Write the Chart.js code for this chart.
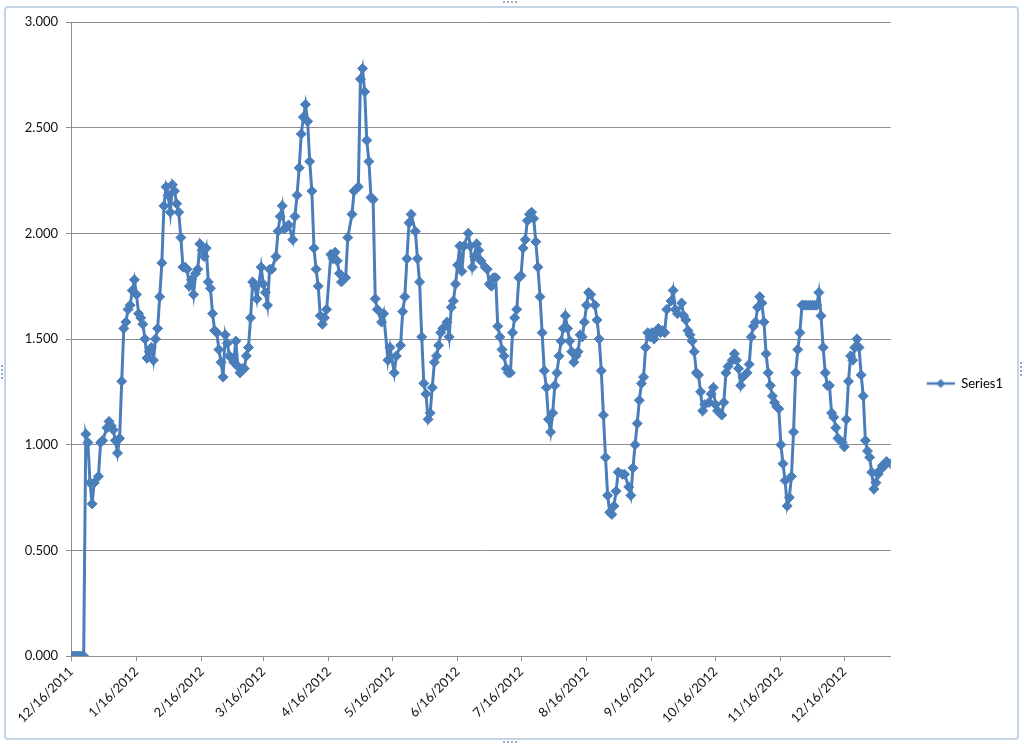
<!DOCTYPE html>
<html>
<head>
<meta charset="utf-8">
<script src="https://cdn.jsdelivr.net/npm/chart.js@4.4.0/dist/chart.umd.min.js"></script>
<style>
  html, body { margin: 0; padding: 0; background: #fff; }
  #wrap { position: relative; width: 1024px; height: 745px; overflow: hidden; }
  #frame { position: absolute; left: 4px; top: 6px; width: 1011px; height: 730px;
           border: 2px solid #c4d4e7; border-radius: 4px; }
  #myChart { position: absolute; left: 0; top: 0; }
  .grip { position: absolute; border-top: 2px dotted #9aa8b8; width: 14px; }
  .gripv { position: absolute; border-left: 2px dotted #9aa8b8; height: 14px; }
</style>
</head>
<body>
<div id="wrap">
  <div id="frame"></div>
  <div class="grip" style="left:503px;top:1px"></div>
  <div class="grip" style="left:503px;top:741px"></div>
  <div class="gripv" style="left:1px;top:365px"></div>
  <div class="gripv" style="left:1020px;top:362px"></div>
  <canvas id="myChart" width="1024" height="745"></canvas>
</div>
<script>
// days counted from 12/16/2011
const dayIndex = [
  0, 1, 2, 3, 4, 5, 6, 7, 8, 9, 10, 11, 13, 14, 15, 17, 18, 19, 20, 21, 22, 23, 24, 25, 26, 27, 28, 29, 30,
  31, 32, 33, 34, 35, 36, 37, 38, 39, 40, 41, 42, 43, 44, 45, 46, 47, 48, 49, 50, 51, 52, 53, 54, 55, 56, 57, 58, 59, 60, 61,
  62, 63, 64, 65, 66, 67, 68, 69, 70, 71, 72, 73, 74, 75, 76, 77, 78, 79, 80, 81, 82, 83, 84, 85, 86, 87, 88, 90,
  91, 92, 93, 94, 95, 97, 98, 99, 100, 101, 102, 103, 105, 106, 107, 108, 109, 110, 111, 112, 113, 114, 115, 116, 117, 118, 119, 120, 121,
  123, 124, 125, 126, 127, 128, 130, 131, 133, 134, 136, 137, 138, 139, 140, 141, 142, 143, 144, 145, 147, 148, 150, 151,
  153, 154, 156, 157, 158, 159, 160, 161, 163, 164, 165, 166, 167, 168, 169, 170, 171, 172, 173, 174, 175, 176, 178, 179, 180, 181, 182,
  183, 184, 185, 186, 188, 189, 190, 191, 192, 193, 194, 196, 197, 198, 199, 200, 201, 202, 203, 204, 205, 206, 207, 208, 209, 210, 211, 212,
  213, 214, 215, 216, 217, 218, 219, 220, 221, 222, 223, 224, 225, 226, 227, 228, 229, 230, 231, 232, 233, 234, 235, 236, 237, 238, 239, 240, 241, 242, 243,
  244, 245, 246, 248, 249, 250, 251, 252, 253, 254, 255, 256, 257, 258, 259, 261, 262, 264, 265, 266, 267, 268, 269, 270, 271, 272, 273, 274,
  275, 276, 277, 278, 279, 280, 281, 282, 284, 285, 286, 287, 289, 290, 291, 292, 293, 294, 295, 296, 297, 298, 299, 300, 302, 303, 304,
  305, 306, 308, 309, 310, 311, 313, 314, 315, 316, 317, 318, 320, 321, 322, 323, 324, 325, 326, 327, 328, 329, 330, 331, 332, 333, 334, 335,
  336, 337, 338, 339, 340, 341, 342, 343, 344, 345, 346, 347, 348, 349, 350, 351, 352, 353, 354, 355, 356, 357, 358, 359, 360, 361, 362, 363, 365,
  366, 367, 368, 369, 370, 371, 372, 373, 374, 375, 376, 377, 378, 379, 380, 381, 382, 383, 384, 385, 386, 388
];
const series1 = [
  0, 0, 0, 0, 0, 0, 0, 1.05, 1.01, 0.82, 0.72, 0.82, 0.85, 1.01, 1.02, 1.08, 1.11, 1.09, 1.07, 1.02, 0.96, 1.03, 1.30, 1.55, 1.58, 1.64, 1.66, 1.73, 1.78,
  1.71, 1.62, 1.60, 1.57, 1.50, 1.41, 1.44, 1.46, 1.40, 1.50, 1.55, 1.70, 1.86, 2.13, 2.22, 2.18, 2.10, 2.23, 2.20, 2.14, 2.10, 1.98, 1.84, 1.84, 1.83, 1.75, 1.78, 1.71, 1.81, 1.83, 1.95,
  1.92, 1.89, 1.93, 1.77, 1.74, 1.62, 1.54, 1.53, 1.45, 1.39, 1.32, 1.52, 1.48, 1.42, 1.41, 1.39, 1.49, 1.37, 1.34, 1.36, 1.36, 1.42, 1.46, 1.60, 1.77, 1.75, 1.69, 1.84,
  1.76, 1.72, 1.66, 1.83, 1.83, 1.89, 2.01, 2.08, 2.13, 2.02, 2.03, 2.04, 1.97, 2.08, 2.18, 2.31, 2.47, 2.55, 2.61, 2.53, 2.34, 2.20, 1.93, 1.83, 1.75, 1.61, 1.57, 1.60, 1.64,
  1.90, 1.88, 1.91, 1.87, 1.81, 1.77, 1.79, 1.98, 2.09, 2.20, 2.22, 2.73, 2.78, 2.67, 2.44, 2.34, 2.17, 2.16, 1.69, 1.64, 1.58, 1.62, 1.40, 1.46,
  1.34, 1.42, 1.47, 1.63, 1.70, 1.88, 2.05, 2.09, 2.01, 1.88, 1.77, 1.51, 1.29, 1.24, 1.12, 1.15, 1.27, 1.39, 1.42, 1.47, 1.53, 1.55, 1.58, 1.51, 1.65, 1.68, 1.76,
  1.85, 1.94, 1.82, 1.94, 2.00, 1.94, 1.84, 1.89, 1.95, 1.92, 1.87, 1.84, 1.83, 1.76, 1.75, 1.79, 1.79, 1.56, 1.51, 1.45, 1.42, 1.36, 1.34, 1.34, 1.53, 1.60, 1.64, 1.79,
  1.80, 1.93, 1.97, 2.06, 2.09, 2.10, 2.07, 1.96, 1.84, 1.70, 1.53, 1.35, 1.27, 1.12, 1.06, 1.15, 1.28, 1.34, 1.42, 1.49, 1.55, 1.61, 1.55, 1.49, 1.44, 1.39, 1.42, 1.44, 1.52, 1.51, 1.58,
  1.66, 1.72, 1.71, 1.66, 1.59, 1.50, 1.35, 1.14, 0.94, 0.76, 0.68, 0.67, 0.71, 0.78, 0.87, 0.86, 0.86, 0.80, 0.76, 0.89, 1.00, 1.10, 1.21, 1.29, 1.32, 1.46, 1.53, 1.51,
  1.53, 1.50, 1.53, 1.55, 1.53, 1.54, 1.53, 1.64, 1.68, 1.73, 1.64, 1.62, 1.67, 1.61, 1.59, 1.54, 1.52, 1.49, 1.44, 1.34, 1.33, 1.25, 1.16, 1.19, 1.20, 1.24, 1.27,
  1.19, 1.16, 1.14, 1.20, 1.34, 1.37, 1.40, 1.43, 1.40, 1.36, 1.28, 1.32, 1.34, 1.38, 1.51, 1.56, 1.58, 1.65, 1.70, 1.67, 1.58, 1.43, 1.34, 1.28, 1.23, 1.20, 1.18, 1.17,
  1.00, 0.91, 0.83, 0.71, 0.75, 0.85, 1.06, 1.34, 1.45, 1.53, 1.66, 1.66, 1.66, 1.66, 1.66, 1.66, 1.66, 1.66, 1.72, 1.61, 1.46, 1.34, 1.28, 1.28, 1.15, 1.13, 1.08, 1.03, 1.01,
  0.99, 1.12, 1.30, 1.42, 1.40, 1.46, 1.50, 1.46, 1.33, 1.23, 1.02, 0.97, 0.94, 0.87, 0.79, 0.82, 0.86, 0.88, 0.90, 0.90, 0.92, 0.91
];
const tickDays = [0, 31, 62, 91, 122, 152, 183, 213, 244, 275, 305, 336, 366];
const tickLabels = ['12/16/2011', '1/16/2012', '2/16/2012', '3/16/2012', '4/16/2012', '5/16/2012', '6/16/2012',
  '7/16/2012', '8/16/2012', '9/16/2012', '10/16/2012', '11/16/2012', '12/16/2012'];
const seriesName = 'Series1';

const lineColor = '#4a7ebb';
const gridColor = '#8e8e8e';
const txtFont = { family: 'Lato, "Liberation Sans", sans-serif', size: 13 };

// legend key: short line with a diamond
function legendKey() {
  let c = document.createElement('canvas');
  c.width = 58; c.height = 12;
  let g = c.getContext('2d');
  g.strokeStyle = lineColor;
  g.lineWidth = 2.5;
  g.beginPath(); g.moveTo(30, 6); g.lineTo(58, 6); g.stroke();
  g.fillStyle = lineColor;
  g.beginPath(); g.moveTo(44, 1.5); g.lineTo(48.5, 6); g.lineTo(44, 10.5); g.lineTo(39.5, 6); g.closePath(); g.fill();
  return c;
}
const keyImg = legendKey();

const points = dayIndex.map((d, i) => ({ x: d, y: series1[i] }));

const ctx = document.getElementById('myChart');
const myChart = new Chart(ctx, {
  type: 'line',
  data: {
    datasets: [{
      label: seriesName,
      data: points,
      borderColor: lineColor,
      backgroundColor: lineColor,
      borderWidth: 3,
      tension: 0,
      pointStyle: 'rectRot',
      pointRadius: 5,
      pointBorderWidth: 1,
      pointBackgroundColor: lineColor,
      pointBorderColor: lineColor
    }]
  },
  options: {
    responsive: false,
    animation: false,
    layout: { padding: { left: 0, top: 22, right: 11, bottom: 0 } },
    plugins: {
      tooltip: { enabled: false },
      legend: {
        position: 'right',
        labels: {
          usePointStyle: true,
          pointStyleWidth: 58,
          padding: 6,
          color: '#111',
          font: txtFont,
          generateLabels: () => [{
            text: seriesName, pointStyle: keyImg, fillStyle: lineColor,
            strokeStyle: lineColor, lineWidth: 0, hidden: false, datasetIndex: 0
          }]
        }
      }
    },
    scales: {
      x: {
        type: 'linear',
        min: 0,
        max: 388,
        afterBuildTicks: s => { s.ticks = tickDays.map(v => ({ value: v })); },
        afterFit: s => { s.height = 89; },
        ticks: {
          autoSkip: false,
          minRotation: 45,
          maxRotation: 45,
          color: '#111',
          font: txtFont,
          callback: (v, i) => tickLabels[i]
        },
        grid: { drawOnChartArea: false, tickLength: 5, color: gridColor },
        border: { color: gridColor }
      },
      y: {
        min: 0,
        max: 3,
        afterFit: s => { s.width = 71; },
        ticks: {
          stepSize: 0.5,
          padding: 8,
          color: '#111',
          font: txtFont,
          callback: v => v.toFixed(3)
        },
        grid: { color: gridColor, tickLength: 5 },
        border: { color: gridColor }
      }
    }
  }
});
</script>
</body>
</html>
